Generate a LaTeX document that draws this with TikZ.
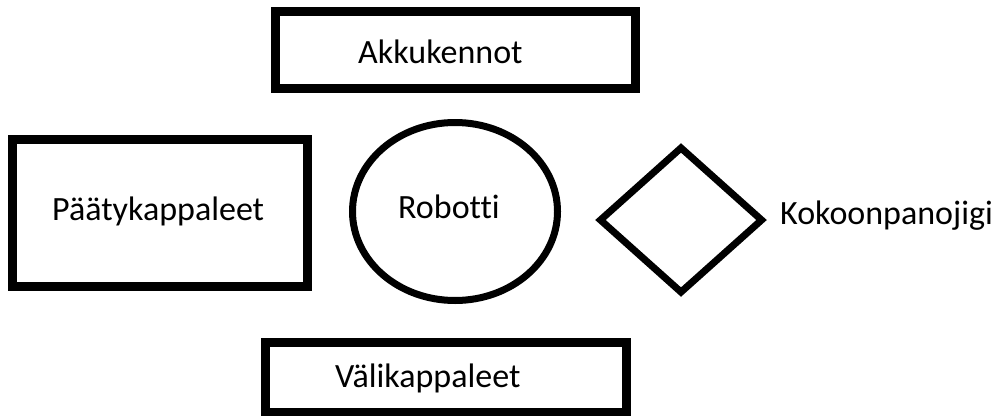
\documentclass[tikz,border=0pt]{standalone}
\usepackage{fontspec}
\setmainfont[Ligatures=NoCommon]{Carlito}
\usetikzlibrary{shapes.geometric}
\begin{document}
\begin{tikzpicture}[x=1pt,y=-1pt,
  partbox/.style={draw=black, line width=9pt, rectangle, inner sep=0pt},
  outline/.style={draw=black, line width=7pt, inner sep=0pt},
  lbl/.style={anchor=base west, inner sep=0pt, text=black,
              font=\fontsize{34}{40}\selectfont}]
\useasboundingbox (0,0) rectangle (1003,415);

% parts and fixtures
\node[partbox, minimum width=360pt, minimum height=77pt]  (akku)  at (455.5,50)   {};
\node[partbox, minimum width=295pt, minimum height=147pt] (paaty) at (160,213)    {};
\node[partbox, minimum width=361pt, minimum height=70pt]  (vali)  at (446,377.5)  {};
\node[outline, ellipse, minimum width=205pt, minimum height=178pt] (robo) at (455,211.5) {};
\node[outline, diamond, minimum width=164pt, minimum height=147pt] (jigi) at (681,220) {};

% labels
\node[lbl] (takku)  at (358,63)  {Akkukennot};
\node[lbl] (tpaaty) at (52,220)  {Päätykappaleet};
\node[lbl] (trobo)  at (398,218) {Robotti};
\node[lbl] (tjigi)  at (780,224) {Kokoonpanojigi};
\node[lbl] (tvali)  at (335,387) {Välikappaleet};
\end{tikzpicture}
\end{document}
